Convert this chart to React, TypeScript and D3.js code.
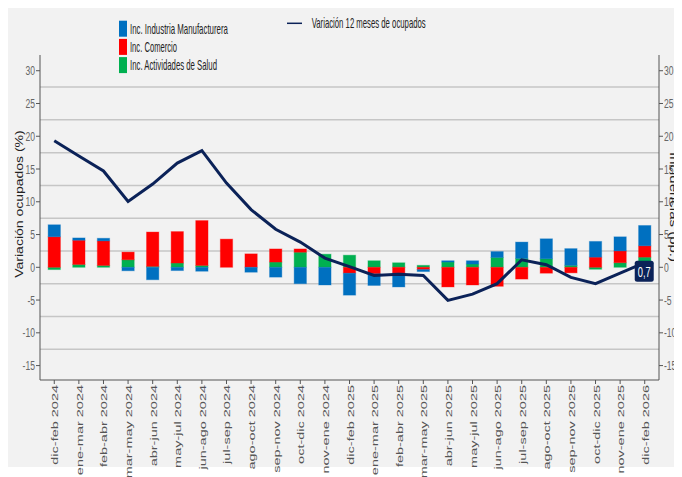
import * as d3 from 'd3'

const CATEGORIES = [
  'dic-feb 2024', 'ene-mar 2024', 'feb-abr 2024', 'mar-may 2024', 'abr-jun 2024',
  'may-jul 2024', 'jun-ago 2024', 'jul-sep 2024', 'ago-oct 2024', 'sep-nov 2024',
  'oct-dic 2024', 'nov-ene 2024', 'dic-feb 2025', 'ene-mar 2025', 'feb-abr 2025',
  'mar-may 2025', 'abr-jun 2025', 'may-jul 2025', 'jun-ago 2025', 'jul-sep 2025',
  'ago-oct 2025', 'sep-nov 2025', 'oct-dic 2025', 'nov-ene 2025', 'dic-feb 2026'
]

const INDUSTRIA = [1.83, 0.35, 0.4, -0.53, -1.9, -0.5, -0.6, 0, -0.75, -1.5, -2.5, -2.7, -3.35, -1.77, -2.1, -0.3, 0.2, 0.5, 0.9, 2.5, 3.05, 2.55, 2.4, 2.15, 3.1]
const COMERCIO = [4.66, 3.7, 3.75, 1.17, 5.25, 4.8, 6.85, 4.3, 2.05, 2.0, 0.5, 0, -0.9, -1.0, -0.9, -0.35, -3.0, -2.7, -2.9, -1.8, -0.9, -0.85, 1.55, 1.8, 1.73]
const SALUD = [-0.35, 0.43, 0.28, 1.15, 0.13, 0.65, 0.28, 0, 0, 0.8, 2.3, 2.0, 1.85, 1.0, 0.69, 0.3, 0.8, 0.5, 1.5, 1.35, 1.3, 0.3, -0.3, 0.7, 1.55]
const OCUPADOS = [19.3, 17.0, 14.7, 10.05, 12.7, 15.9, 17.8, 12.85, 8.8, 5.8, 3.85, 1.4, 0.1, -1.25, -1.05, -1.25, -5.05, -4.1, -2.5, 1.15, 0.4, -1.55, -2.5, -0.9, 0.7]

const Y_TICKS = [-15, -10, -5, 0, 5, 10, 15, 20, 25, 30]
const GRID_LINES = [-12.5, -7.5, -2.5, 2.5, 7.5, 12.5, 17.5, 22.5, 27.5]
const LAST_LABEL = '0,7'

const SERIES = [
  { key: 'salud', name: 'Inc. Actividades de Salud', color: '#00b050', values: SALUD },
  { key: 'comercio', name: 'Inc. Comercio', color: '#ff0000', values: COMERCIO },
  { key: 'industria', name: 'Inc. Industria Manufacturera', color: '#0070c0', values: INDUSTRIA }
]

const LINE_COLOR = '#0b2258'
const AXIS_COLOR = '#555555'
const FONT = 'Arial, "Liberation Sans", sans-serif'

export default function App() {
  // page coordinates (body margin is 8px)
  const left = 40
  const right = 659
  const top = 55
  const bottom = 380

  const x = d3.scalePoint<string>()
    .domain(CATEGORIES)
    .range([left, right])
    .padding(0.58)

  const y = d3.scaleLinear()
    .domain([-17.2, 32.4])
    .range([bottom, top])

  const barWidth = x.step() * 0.5

  const rows = CATEGORIES.map((c, i) => {
    const row: any = { cat: c }
    SERIES.forEach(s => { row[s.key] = s.values[i] })
    return row
  })

  const stacked = d3.stack()
    .keys(SERIES.map(s => s.key))
    .offset(d3.stackOffsetDiverging)(rows)

  const line = d3.line<number>()
    .x((d, i) => x(CATEGORIES[i])!)
    .y(d => y(d))

  const lastX = x(CATEGORIES[CATEGORIES.length - 1])!
  const lastY = y(OCUPADOS[OCUPADOS.length - 1])

  const legendOrder = [SERIES[2], SERIES[1], SERIES[0]]
  const legendLengths = [98, 47, 87]

  return (
    <svg width={674} height={469} style={{ display: 'block', overflow: 'hidden' }}>
      <g transform="translate(-8,-8)">
        <rect x={8} y={8} width={674} height={459} fill="#f2f2f2" />

        {/* Grid */}
        {GRID_LINES.map(g => (
          <line key={g} x1={left} x2={right} y1={y(g)} y2={y(g)} stroke="#c6c6c6" strokeWidth={1.5} />
        ))}

        {/* Bars */}
        {stacked.map((layer, li) => (
          <g key={layer.key}>
            {layer.map((d, i) => {
              const h = Math.abs(y(d[0]) - y(d[1]))
              if (h < 0.01) return null
              return (
                <rect
                  key={i}
                  x={x(CATEGORIES[i])! - barWidth / 2}
                  y={Math.min(y(d[0]), y(d[1]))}
                  width={barWidth}
                  height={h}
                  fill={SERIES[li].color}
                  stroke={SERIES[li].color}
                  strokeOpacity={0.35}
                  strokeWidth={1}
                />
              )
            })}
          </g>
        ))}

        {/* Line */}
        <path d={line(OCUPADOS)!} fill="none" stroke={LINE_COLOR} strokeWidth={3} strokeLinejoin="miter" />

        {/* Last value label */}
        <rect x={lastX - 10} y={lastY - 2} width={19} height={21} rx={2.5} fill={LINE_COLOR} />
        <text
          transform={`translate(${lastX - 0.5},${lastY + 14}) scale(0.62,1)`}
          textAnchor="middle"
          fontFamily={FONT}
          fontSize={15}
          fill="white"
        >
          {LAST_LABEL}
        </text>

        {/* Axes */}
        <line x1={left} x2={left} y1={top} y2={bottom} stroke={AXIS_COLOR} strokeWidth={1} />
        <line x1={right} x2={right} y1={top} y2={bottom} stroke={AXIS_COLOR} strokeWidth={1} />
        <line x1={left} x2={right} y1={bottom} y2={bottom} stroke={AXIS_COLOR} strokeWidth={1} />

        {Y_TICKS.map(t => (
          <g key={t}>
            <line x1={left - 4} x2={left} y1={y(t)} y2={y(t)} stroke={AXIS_COLOR} />
            <text
              transform={`translate(${left - 5},${y(t) + 4.5}) scale(0.66,1)`}
              textAnchor="end"
              fontFamily={FONT}
              fontSize={13}
              fill="#666"
            >
              {t}
            </text>
            <line x1={right} x2={right + 4} y1={y(t)} y2={y(t)} stroke={AXIS_COLOR} />
            <text
              transform={`translate(${right + 5},${y(t) + 4.5}) scale(0.66,1)`}
              textAnchor="start"
              fontFamily={FONT}
              fontSize={13}
              fill="#666"
            >
              {t}
            </text>
          </g>
        ))}

        {CATEGORIES.map(c => (
          <g key={c}>
            <line x1={x(c)!} x2={x(c)!} y1={bottom} y2={bottom + 4} stroke={AXIS_COLOR} />
            <text
              transform={`translate(${x(c)! + 4},${bottom + 5}) scale(0.6,1) rotate(-90)`}
              textAnchor="end"
              fontFamily={FONT}
              fontSize={14.5}
              fill="#555"
            >
              {c}
            </text>
          </g>
        ))}

        {/* Axis titles */}
        <text
          transform={`translate(${23},${204}) scale(0.75,1) rotate(-90)`}
          textAnchor="middle"
          fontFamily={FONT}
          fontSize={14}
          fill="#222"
        >
          Variación ocupados (%)
        </text>
        <text
          transform={`translate(${670},${207}) scale(0.7,1) rotate(90)`}
          textAnchor="middle"
          fontFamily={FONT}
          fontSize={15}
          fill="#222"
        >
          Incidencias (pp.)
        </text>

        {/* Legend */}
        {legendOrder.map((s, i) => (
          <g key={s.key} transform={`translate(119,${20.7 + i * 18.2})`}>
            <rect width={8} height={16} fill={s.color} />
            <text
              x={11}
              y={13.3}
              fontFamily={FONT}
              fontSize={15}
              fill="#222"
              textLength={legendLengths[i]}
              lengthAdjust="spacingAndGlyphs"
            >
              {s.name}
            </text>
          </g>
        ))}
        <line x1={287} x2={302} y1={23.3} y2={23.3} stroke={LINE_COLOR} strokeWidth={1.5} />
        <text
          x={311.7}
          y={28.3}
          fontFamily={FONT}
          fontSize={15}
          fill="#222"
          textLength={114}
          lengthAdjust="spacingAndGlyphs"
        >
          Variación 12 meses de ocupados
        </text>
      </g>
    </svg>
  )
}
